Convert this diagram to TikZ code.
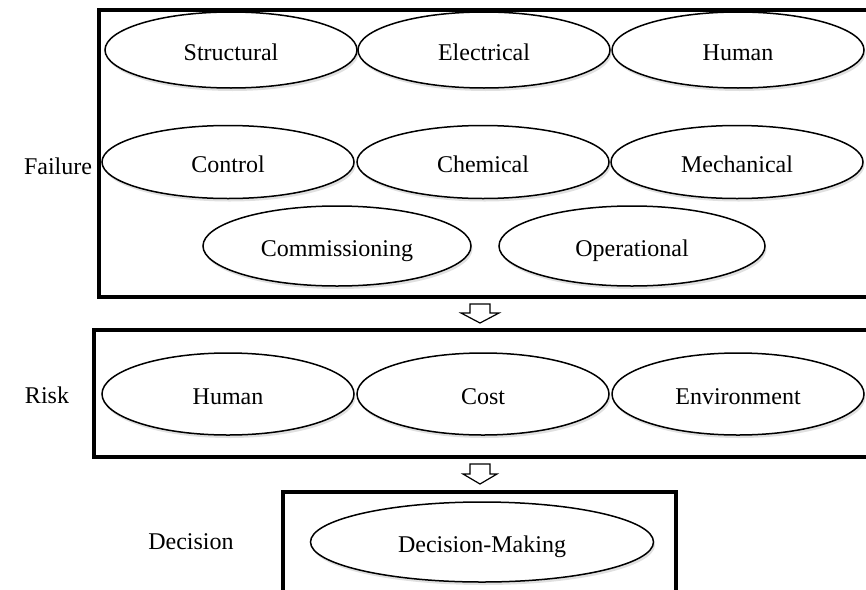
\documentclass[tikz,border=0pt]{standalone}
\usepackage{fontspec}
\setmainfont{Liberation Serif}
\usetikzlibrary{shapes.geometric,shadows}
\begin{document}
\begin{tikzpicture}[x=1pt,y=-1pt,
  box/.style={draw=black,line width=4pt},
  oval/.style={ellipse,draw=black,line width=1.5pt,fill=white,inner sep=0pt,
    minimum width=252pt,minimum height=76pt,
    font=\fontsize{24}{28}\selectfont,text height=22pt,text depth=2pt,
    drop shadow={shadow xshift=1.5pt,shadow yshift=-3pt,fill=black,opacity=0.12}},
  lbl/.style={font=\fontsize{24}{28}\selectfont},
  blockarrow/.style={draw=black,line width=1.2pt,fill=white,line join=miter}]
\useasboundingbox (0,0) rectangle (866,589);
\clip (0,0) rectangle (866,589);
% boxes
\draw[box] (99,10) rectangle (900,297);
\draw[box] (94,330) rectangle (900,457);
\draw[box] (283,492) rectangle (676,620);
% labels
\node[lbl] (failure) at (58,166) {Failure};
\node[lbl] (risk) at (47,395) {Risk};
\node[lbl] (decision) at (191,542) {Decision};
% failure ellipses
\node[oval] (structural) at (231,50) {Structural};
\node[oval] (electrical) at (484,50) {Electrical};
\node[oval] (human1) at (738,50) {Human};
\node[oval,minimum height=73pt] (control) at (228,162) {Control};
\node[oval,minimum height=73pt] (chemical) at (483,162) {Chemical};
\node[oval,minimum height=73pt] (mechanical) at (737,162) {Mechanical};
\node[oval,minimum width=268pt,minimum height=80pt] (commissioning) at (337,246) {Commissioning};
\node[oval,minimum width=266pt,minimum height=80pt] (operational) at (632,246) {Operational};
% risk ellipses
\node[oval,minimum height=82pt] (human2) at (228,394) {Human};
\node[oval,minimum height=82pt] (cost) at (483,394) {Cost};
\node[oval,minimum height=82pt] (environment) at (738,394) {Environment};
% decision
\node[oval,minimum width=343pt,minimum height=80pt] (making) at (482,542) {Decision-Making};
% block arrows
\coordinate (a1) at (480,304);
\coordinate (a2) at (480,464);
\draw[blockarrow] (a1) ++(-10,0) -- ++(0,9) -- ++(-9,0) -- ++(19,10) -- ++(19,-10) -- ++(-9,0) -- ++(0,-9) -- cycle;
\draw[blockarrow] (a2) ++(-10,0) -- ++(0,10) -- ++(-7,0) -- ++(17,10) -- ++(17,-10) -- ++(-7,0) -- ++(0,-10) -- cycle;
\end{tikzpicture}
\end{document}
